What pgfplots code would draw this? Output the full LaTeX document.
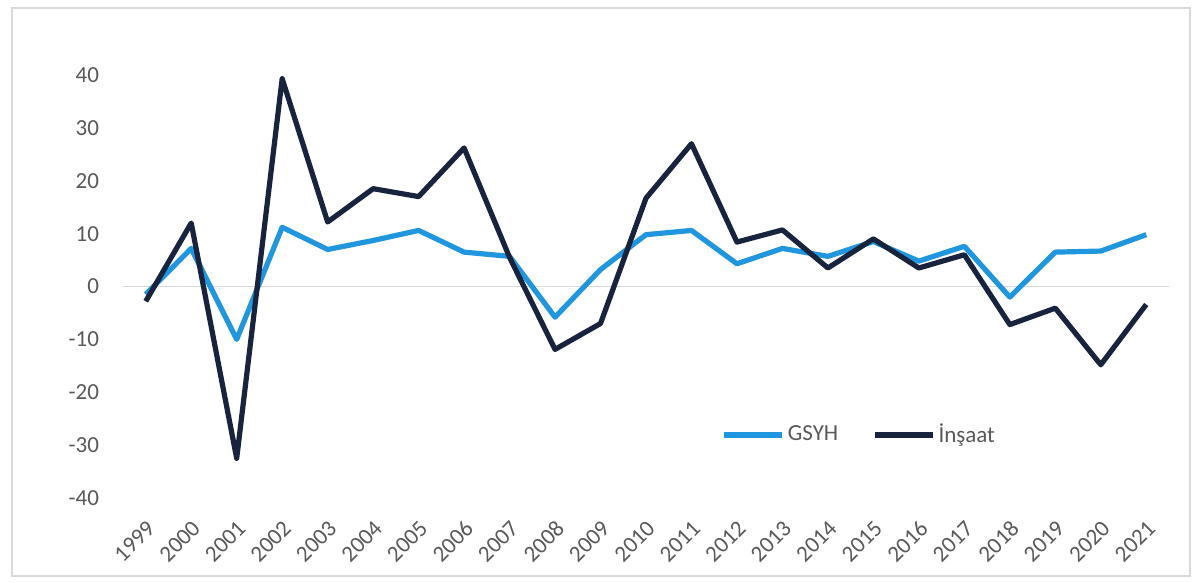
\documentclass[border=0pt]{standalone}
\usepackage{pgfplots}
\pgfplotsset{compat=1.18}
\usepackage{pgfplotstable}
\usepackage{fontspec}
\setmainfont{Carlito}

\definecolor{gsyh}{RGB}{32,150,222}
\definecolor{insaat}{RGB}{24,36,62}
\definecolor{labelgray}{RGB}{89,89,89}
\definecolor{framegray}{RGB}{217,217,217}

% Annual growth rates (%), 1999 = 0 ... 2021 = 22
\pgfplotstableread{
x y
0 -1.5
1 7.2
2 -10.0
3 11.2
4 7.0
5 8.7
6 10.6
7 6.5
8 5.7
9 -5.8
10 3.2
11 9.8
12 10.6
13 4.3
14 7.2
15 5.7
16 8.5
17 4.8
18 7.6
19 -2.0
20 6.5
21 6.7
22 9.8
}\gsyhdata

\pgfplotstableread{
x y
0 -2.8
1 12.0
2 -32.5
3 39.3
4 12.2
5 18.5
6 17.0
7 26.2
8 5.5
9 -11.9
10 -7.0
11 16.7
12 27.0
13 8.4
14 10.7
15 3.5
16 9.0
17 3.5
18 6.0
19 -7.2
20 -4.1
21 -14.8
22 -3.4
}\insaatdata

\begin{document}
\begin{tikzpicture}
\path[fill=white] (0,0) rectangle (600.5pt,291.5pt);
\draw[framegray, line width=0.8pt] (6pt,3.5pt) rectangle (595pt,287.5pt);
\begin{axis}[
  at={(61.5pt,42.5pt)}, anchor=south west,
  scale only axis,
  width=523pt, height=211.5pt,
  xmin=-0.5, xmax=22.5,
  ymin=-40, ymax=40,
  xtick={0,...,22},
  xticklabels={1999,2000,2001,2002,2003,2004,2005,2006,2007,2008,2009,2010,2011,2012,2013,2014,2015,2016,2017,2018,2019,2020,2021},
  ytick={-40,-30,...,40},
  axis line style={draw=none},
  major tick length=0pt,
  extra y ticks={0},
  extra y tick labels={},
  extra y tick style={grid=major, grid style={framegray, line width=0.8pt}},
  /pgf/number format/assume math mode=true,
  tick label style={font=\fontsize{11.5}{13}\selectfont, text=labelgray},
  yticklabel style={xshift=-8.5pt},
  xticklabel style={xshift=5pt, yshift=-11pt, rotate=45, anchor=east},
  legend style={
    at={(rel axis cs:0.572,0.149)}, anchor=west,
    draw=none, fill=none, inner sep=0pt,
    font=\fontsize{11.5}{13}\selectfont, text=labelgray,
    legend columns=2,
    /tikz/every even column/.append style={column sep=15.5pt},
    nodes={inner xsep=1.5pt},
  },
  legend image code/.code={\draw[#1] (0pt,0pt) -- (29pt,0pt);},
  clip=false,
]
\addplot[gsyh, line width=2.6pt, line join=round] table[x=x, y=y] {\gsyhdata};
\addlegendentry{GSYH}
\addplot[insaat, line width=2.6pt, line join=round] table[x=x, y=y] {\insaatdata};
\addlegendentry{İnşaat}
\end{axis}
\end{tikzpicture}
\end{document}
